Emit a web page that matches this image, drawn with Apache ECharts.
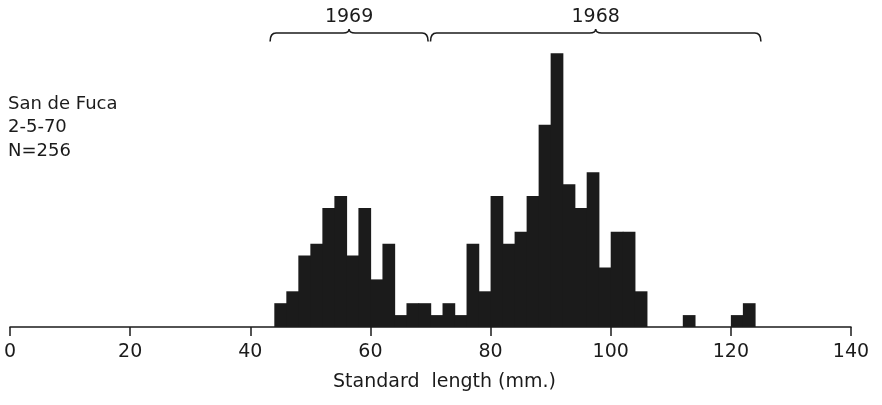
<!DOCTYPE html>
<html>
<head>
<meta charset="utf-8">
<script src="https://cdn.jsdelivr.net/npm/echarts@6/dist/echarts.min.js"></script>
<style>
  html, body { margin: 0; padding: 0; background: #fff; }
  #chart { width: 882px; height: 405px; }
</style>
</head>
<body>
<div id="chart"></div>
<script>
// length classes (mm), 2 mm wide, and the number of fish in each
const binWidth = 2;
const binStart = [44, 46, 48, 50, 52, 54, 56, 58, 60, 62, 64, 66, 68, 70, 72, 74, 76, 78, 80, 82,
  84, 86, 88, 90, 92, 94, 96, 98, 100, 102, 104, 106, 108, 110, 112, 114, 116, 118, 120, 122];
const counts = [2, 3, 6, 7, 10, 11, 6, 10, 4, 7, 1, 2, 2, 1, 2, 1, 7, 3, 11, 7,
  8, 11, 17, 23, 12, 10, 13, 5, 8, 8, 3, 0, 0, 0, 1, 0, 0, 0, 1, 2];

// year classes marked with braces above the bars
const yearLabels = ["1969", "1968"];
const yearFrom = [43.3, 70];
const yearTo = [69.6, 125];

const xTicks = [0, 20, 40, 60, 80, 100, 120, 140];
const sampleInfo = ["San de Fuca", "2-5-70", "N=256"];

const FONT = "DejaVu Sans";
const INK = "#1b1b1b";

const chart = echarts.init(document.getElementById("chart"));

const barData = binStart.map((s, i) => [s, counts[i]]);
const braceData = yearLabels.map((y, i) => [yearFrom[i], yearTo[i], y]);

const option = {
  animation: false,
  grid: { left: 10, right: 31, top: 41.4, bottom: 78 },
  xAxis: {
    type: "value",
    min: xTicks[0],
    max: xTicks[xTicks.length - 1],
    interval: 20,
    name: "Standard  length (mm.)",
    nameLocation: "middle",
    nameGap: 46,
    nameTextStyle: { fontFamily: FONT, fontSize: 19, color: INK, padding: [0, 0, 0, 28] },
    axisLine: { lineStyle: { color: INK, width: 1.5 } },
    axisTick: { inside: false, length: 9, lineStyle: { color: INK, width: 1.5 } },
    axisLabel: { fontFamily: FONT, fontSize: 19, color: INK, margin: 16 },
    splitLine: { show: false }
  },
  yAxis: {
    type: "value",
    min: 0,
    max: 24,
    show: false
  },
  graphic: sampleInfo.map((t, i) => ({
    type: "text",
    left: 8,
    top: 95 + i * 23.5,
    style: { text: t, font: "18px " + FONT, fill: INK }
  })),
  series: [
    {
      type: "custom",
      data: barData,
      renderItem: function (params, api) {
        const s = api.value(0);
        const c = api.value(1);
        if (!c) return null;
        const p0 = api.coord([s, c]);
        const p1 = api.coord([s + binWidth, 0]);
        // overlap neighbours slightly so no seams show between bars
        return {
          type: "rect",
          shape: { x: p0[0], y: p0[1], width: p1[0] - p0[0] + 0.7, height: p1[1] - p0[1] },
          style: { fill: INK }
        };
      }
    },
    {
      type: "custom",
      clip: false,
      data: braceData,
      renderItem: function (params, api) {
        const a = api.coord([api.value(0), 24]);
        const b = api.coord([api.value(1), 24]);
        const x0 = a[0], x1 = b[0], mid = (x0 + x1) / 2;
        const base = a[1];
        const lineY = base - 8.4;
        const peakY = base - 12.4;
        const r = 6;
        const path =
          "M" + x0 + "," + base +
          " Q" + x0 + "," + lineY + " " + (x0 + r) + "," + lineY +
          " L" + (mid - r) + "," + lineY +
          " Q" + mid + "," + lineY + " " + mid + "," + peakY +
          " Q" + mid + "," + lineY + " " + (mid + r) + "," + lineY +
          " L" + (x1 - r) + "," + lineY +
          " Q" + x1 + "," + lineY + " " + x1 + "," + base;
        return {
          type: "group",
          children: [
            {
              type: "path",
              shape: { pathData: path },
              style: { fill: "none", stroke: INK, lineWidth: 1.6 }
            },
            {
              type: "text",
              x: mid,
              y: base - 24.5,
              style: {
                text: api.value(2),
                font: "19px " + FONT,
                fill: INK,
                align: "center",
                verticalAlign: "middle"
              }
            }
          ]
        };
      }
    }
  ]
};

chart.setOption(option);
</script>
</body>
</html>
